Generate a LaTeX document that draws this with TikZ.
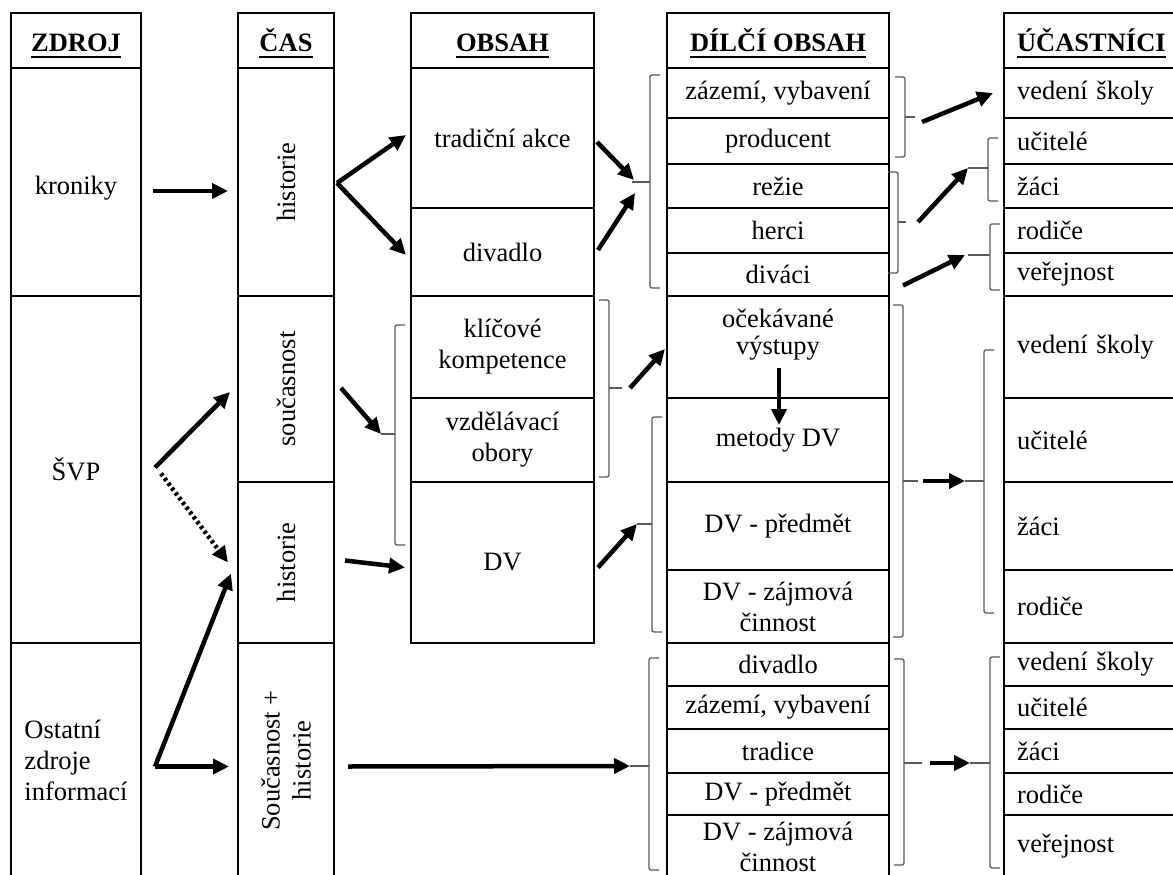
\documentclass[tikz,border=0pt]{standalone}
\usepackage{fontspec}
\setmainfont{Liberation Serif}
\usetikzlibrary{arrows.meta}

% bold underlined column heading
\newcommand{\headtxt}[1]{\setbox0\hbox{\bfseries #1}\rlap{\smash{\rule[-6pt]{\wd0}{2pt}}}\box0}
% square brackets: {name}{x}{top}{bottom}{tick end x}{tick y}
\newcommand{\brkL}[6]{%
  \draw[brk] (#2+10,#3) -- (#2,#3) -- (#2,#4) -- (#2+10,#4);
  \draw[brk, rounded corners=0pt] (#2,#6) -- (#5,#6);
  \coordinate (#1) at (#5,#6);}
\newcommand{\brkR}[6]{%
  \draw[brk] (#2-10,#3) -- (#2,#3) -- (#2,#4) -- (#2-10,#4);
  \draw[brk, rounded corners=0pt] (#2,#6) -- (#5,#6);
  \coordinate (#1) at (#5,#6);}

\begin{document}
\begin{tikzpicture}[x=1pt, y=-1pt,
    every node/.style={font=\fontsize{26.5}{31}\selectfont},
    cell/.style={draw, line width=1.4pt, inner sep=0pt, outer sep=0pt, anchor=north west, align=center},
    hd/.style={text height=23pt, text depth=0pt},
    colA/.style={cell, minimum width=130},
    colB/.style={cell, minimum width=96},
    colC/.style={cell, minimum width=183},
    colD/.style={cell, minimum width=222},
    colE/.style={cell, minimum width=190, text width=164, inner xsep=13pt, align=left},
    arr/.style={-{Triangle[length=16pt, width=15pt]}, line width=4.5pt},
    dot/.style={arr, dash pattern=on 3pt off 3pt},
    brk/.style={draw=black!65, line width=1.3pt, rounded corners=2pt}]

  \fill[white] (0,0) rectangle (1173,875);
  \useasboundingbox (0,0) rectangle (1173,875);

  % ZDROJ
  \node[colA, hd, minimum height=55] (zdroj) at (11,13) {\headtxt{ZDROJ}};
  \node[colA, minimum height=228] (kron) at (11,68) {};
  \node (krontxt) at (76,188) {kroniky};
  \node[colA, minimum height=347] (svp) at (11,296) {ŠVP};
  \node[colA, minimum height=235, align=left] (ost) at (11,643) {Ostatní\\zdroje\\informací};

  % ČAS
  \node[colB, hd, minimum height=55] (cas) at (238,13) {\headtxt{ČAS}};
  \node[colB, minimum height=228] (hist1) at (238,68) {};
  \node[colB, minimum height=186] (soucas) at (238,296) {};
  \node[colB, minimum height=161] (hist2) at (238,482) {};
  \node[colB, minimum height=235] (souchist) at (238,643) {};
  \node[rotate=90] (hist1txt) at (hist1) {historie};
  \node[rotate=90] (soucastxt) at (soucas) {současnost};
  \node[rotate=90] (hist2txt) at (hist2) {historie};
  \node[rotate=90, align=center] (souchisttxt) at (souchist) {Současnost +\\historie};

  % OBSAH
  \node[colC, hd, minimum height=55] (obsah) at (411,13) {\headtxt{OBSAH}};
  \node[colC, minimum height=140] (akce) at (411,68) {tradiční akce};
  \node[colC, minimum height=88] (divadlo) at (411,208) {divadlo};
  \node[colC, minimum height=102] (klic) at (411,296) {klíčové\\kompetence};
  \node[colC, minimum height=84] (obory) at (411,398) {vzdělávací\\obory};
  \node[colC, minimum height=161] (dv) at (411,482) {DV};

  % DÍLČÍ OBSAH
  \node[colD, hd, minimum height=55] (dilci) at (667,13) {\headtxt{DÍLČÍ OBSAH}};
  \node[colD, minimum height=50] (zazemi) at (667,68) {zázemí, vybavení};
  \node[colD, minimum height=46] (producent) at (667,118) {producent};
  \node[colD, minimum height=44] (rezie) at (667,164) {režie};
  \node[colD, minimum height=45] (herci) at (667,208) {herci};
  \node[colD, minimum height=43] (divaci) at (667,253) {diváci};
  \node[colD, minimum height=102] (ocek) at (667,296) {};
  \node[font=\fontsize{26.5}{27}\selectfont, align=center] (ocektxt) at (778,335) {očekávané\\výstupy};
  \node[colD, minimum height=84] (metody) at (667,398) {metody DV};
  \node[colD, minimum height=88] (predmet) at (667,482) {DV - předmět};
  \node[colD, minimum height=73] (zajmova) at (667,570) {DV - zájmová\\činnost};
  \node[colD, minimum height=43] (divadlob) at (667,643) {divadlo};
  \node[colD, minimum height=43] (zazemib) at (667,686) {zázemí, vybavení};
  \node[colD, minimum height=44] (tradice) at (667,729) {tradice};
  \node[colD, minimum height=42] (predmetb) at (667,773) {DV - předmět};
  \node[colD, minimum height=63] (zajmovab) at (667,815) {DV - zájmová\\činnost};

  % ÚČASTNÍCI
  \node[colE, hd, minimum height=55] (ucast) at (1004,13) {\headtxt{ÚČASTNÍCI}};
  \node[colE, minimum height=50] (vedeni) at (1004,68) {vedení školy};
  \node[colE, minimum height=46] (ucitele) at (1004,118) {učitelé};
  \node[colE, minimum height=44] (zaci) at (1004,164) {žáci};
  \node[colE, minimum height=45] (rodice) at (1004,208) {rodiče};
  \node[colE, minimum height=43] (verejnost) at (1004,253) {veřejnost};
  \node[colE, minimum height=102] (vedenib) at (1004,296) {vedení školy};
  \node[colE, minimum height=84] (uciteleb) at (1004,398) {učitelé};
  \node[colE, minimum height=88] (zacib) at (1004,482) {žáci};
  \node[colE, minimum height=73] (rodiceb) at (1004,570) {rodiče};
  \node[colE, minimum height=43] (vedenic) at (1004,643) {vedení školy};
  \node[colE, minimum height=43] (ucitelec) at (1004,686) {učitelé};
  \node[colE, minimum height=44] (zacic) at (1004,729) {žáci};
  \node[colE, minimum height=42] (rodicec) at (1004,773) {rodiče};
  \node[colE, minimum height=63] (verejnostc) at (1004,815) {veřejnost};

  % brackets
  \brkL{bA}{650}{75}{288}{632}{182}
  \brkR{bB}{905}{77}{157}{915}{117}
  \brkR{bC}{898}{172}{273}{906}{222}
  \brkL{bD}{988}{138}{201}{968}{168}
  \brkL{bE}{990}{224}{290}{968}{255}
  \brkL{bF}{395}{325}{545}{381}{434}
  \brkR{bG}{609}{300}{477}{622}{388}
  \brkL{bH}{652}{417}{632}{637}{524}
  \brkR{bI}{903}{305}{637}{918}{481}
  \brkL{bJ}{984}{350}{613}{965}{481}
  \brkL{bK}{649}{658}{870}{630}{766}
  \brkR{bL}{904}{659}{865}{922}{763}
  \brkL{bM}{990}{657}{868}{970}{763}

  % arrows
  \draw[arr] ([shift={(12,9)}]kron.east) -- ([shift={(-10,9)}]hist1.west);
  \draw[arr] ([shift={(3,1)}]hist1.east) -- ([shift={(-5,-3)}]akce.west);
  \draw[arr] ([shift={(3,1)}]hist1.east) -- ([shift={(-5,3)}]divadlo.west);
  \draw[arr] ([shift={(3,4)}]akce.east) -- ([shift={(2,-2)}]bA);
  \draw[arr] ([shift={(4,-2)}]divadlo.east) -- ([shift={(3,11)}]bA);
  \draw[arr] ([shift={(7,5)}]bB) -- ([xshift=-11]vedeni.west);
  \draw[arr] ([xshift=12]bC) -- (bD);
  \draw[arr] ([shift={(14,11)}]divaci.east) -- ([xshift=-3]bE);
  \draw[arr] ([shift={(14,-2)}]svp.east) -- ([shift={(-8,3)}]soucas.west);
  \draw[dot] ([shift={(20,4)}]svp.east) -- ([xshift=-10]hist2.west);
  \coordinate (ostfork) at ([shift={(14,6)}]ost.east);
  \draw[arr] (ostfork) -- ([shift={(-7,11)}]hist2.west);
  \draw[arr] (ostfork) -- ([shift={(-9,6)}]souchist.west);
  \draw[arr] ([shift={(7,-1)}]soucas.east) -- (bF);
  \draw[arr] ([shift={(11,-2)}]hist2.east) -- ([shift={(-6,5)}]dv.west);
  \draw[arr] ([xshift=8]bG) -- ([shift={(-2,2)}]ocek.west);
  \draw[arr] ([shift={(4,5)}]dv.east) -- (bH);
  \draw[arr] ([shift={(1,-30)}]ocek.south) -- ([shift={(1,27)}]metody.north);
  \draw[arr] ([xshift=5]bI) -- (bJ);
  \draw[arr] ([shift={(14,6)}]souchist.east) -- (bK);
  \draw[arr] ([xshift=8]bL) -- (bM);
\end{tikzpicture}
\end{document}
